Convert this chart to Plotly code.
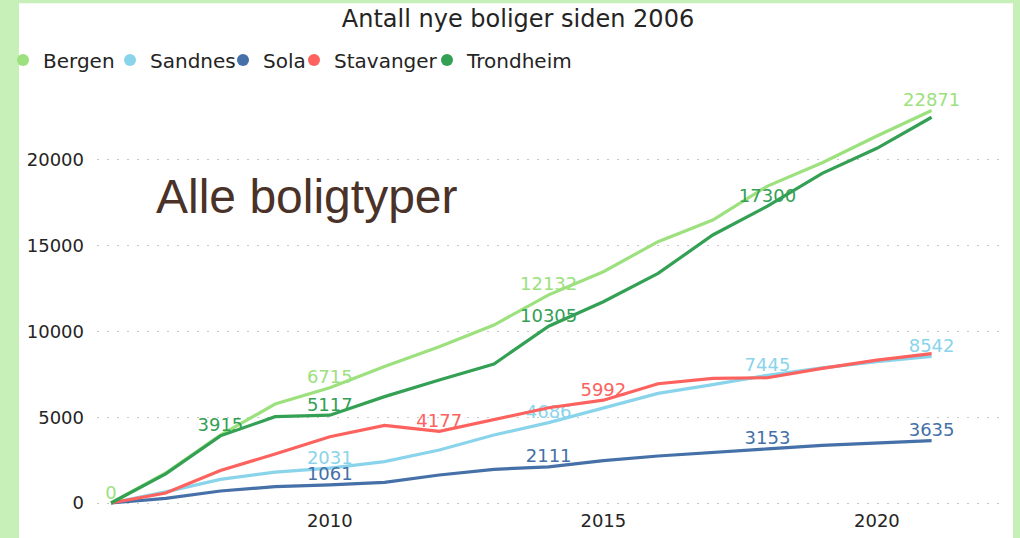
import plotly.graph_objects as go

years = list(range(2006, 2022))
series_names = ["Bergen", "Sandnes", "Sola", "Stavanger", "Trondheim"]
bergen = [0, 1750, 3950, 5770, 6715, 7950, 9110, 10370, 12132, 13480, 15230, 16490, 18470, 19830, 21390, 22871]
sandnes = [0, 650, 1380, 1800, 2031, 2410, 3090, 3960, 4686, 5520, 6390, 6900, 7445, 7870, 8230, 8542]
sola = [0, 270, 700, 950, 1061, 1200, 1630, 1960, 2111, 2470, 2740, 2930, 3153, 3360, 3510, 3635]
stavanger = [0, 580, 1900, 2850, 3860, 4520, 4177, 4850, 5550, 5992, 6950, 7260, 7300, 7850, 8330, 8700]
trondheim = [0, 1700, 3915, 5030, 5117, 6200, 7170, 8100, 10305, 11730, 13380, 15620, 17300, 19210, 20670, 22480]

label_years = {
    "Bergen": [2006, 2010, 2014, 2021],
    "Sandnes": [2010, 2014, 2018, 2021],
    "Sola": [2010, 2014, 2018, 2021],
    "Stavanger": [2012, 2015],
    "Trondheim": [2008, 2010, 2014, 2018],
}
colors = {
    "Bergen": "#9CE17E",
    "Sandnes": "#8AD4EB",
    "Sola": "#4570A8",
    "Stavanger": "#FD625E",
    "Trondheim": "#33A054",
}
# legend entry widths (style only)
legend_widths = {"Bergen": 62, "Sandnes": 68, "Sola": 26, "Stavanger": 88, "Trondheim": 110}
values = {"Bergen": bergen, "Sandnes": sandnes, "Sola": sola,
          "Stavanger": stavanger, "Trondheim": trondheim}

y_ticks = [0, 5000, 10000, 15000, 20000]
x_ticks = [2010, 2015, 2020]

FONT = "DejaVu Sans"
TXT = "#252423"

fig = go.Figure()
for name in series_names:
    vals = values[name]
    texts = [str(v) if yr in label_years[name] else "" for yr, v in zip(years, vals)]
    fig.add_trace(go.Scatter(
        x=years, y=vals, mode="lines+text", text=texts, textposition="top center",
        textfont=dict(family=FONT, size=18, color=colors[name]),
        line=dict(color=colors[name], width=3.2), showlegend=False, cliponaxis=False,
        hoverinfo="skip"))
for name in series_names:
    fig.add_trace(go.Scatter(
        x=[None], y=[None], mode="markers", name=name, legendwidth=legend_widths[name],
        marker=dict(size=12, color=colors[name]), showlegend=True))

W, H = 1020, 538
L, R, T, B = 97, 20, 90, 30
pw, ph = W - L - R, H - T - B

def px_x(p):
    return (p - L) / pw

def px_y(p):
    return (H - B - p) / ph

fig.add_shape(type="rect", xref="paper", yref="paper",
              x0=px_x(19), x1=px_x(1013), y0=px_y(560), y1=px_y(3.3),
              fillcolor="white", line=dict(width=0), layer="below")

fig.add_annotation(text="Alle boligtyper", xref="paper", yref="paper",
                   x=px_x(154), y=px_y(197), xanchor="left", yanchor="middle",
                   showarrow=False,
                   font=dict(family="Liberation Sans, Arial", size=48, color="#4A3228"))

fig.update_layout(
    width=W, height=H,
    margin=dict(l=L, r=R, t=T, b=B, autoexpand=False),
    paper_bgcolor="#C6F0B8",
    plot_bgcolor="white",
    title=dict(text="Antall nye boliger siden 2006", x=518 / W, xref="container",
               xanchor="center", y=1 - 19 / H, yref="container", yanchor="middle",
               font=dict(family=FONT, size=24, color=TXT)),
    legend=dict(orientation="h", x=px_x(3), xanchor="left", y=px_y(60), yanchor="middle",
                font=dict(family=FONT, size=20, color=TXT), bgcolor="rgba(0,0,0,0)",
                traceorder="normal"),
    xaxis=dict(range=[2005.744, 2022.25], tickvals=x_ticks, showgrid=False,
               zeroline=False, showline=False, ticks="", automargin=False,
               tickfont=dict(family=FONT, size=18, color=TXT)),
    yaxis=dict(range=[-291.4, 24068], tickvals=y_ticks, automargin=False,
               ticktext=[str(v) for v in y_ticks], showgrid=True,
               gridcolor="#C8C8C8", griddash="2px,8px", gridwidth=1,
               zeroline=False, showline=False, ticks="", ticklabelstandoff=12,
               tickfont=dict(family=FONT, size=18, color=TXT)),
)

fig.write_html("out.html", config={"displayModeBar": False},
               post_script="document.body.style.margin='0px';")
